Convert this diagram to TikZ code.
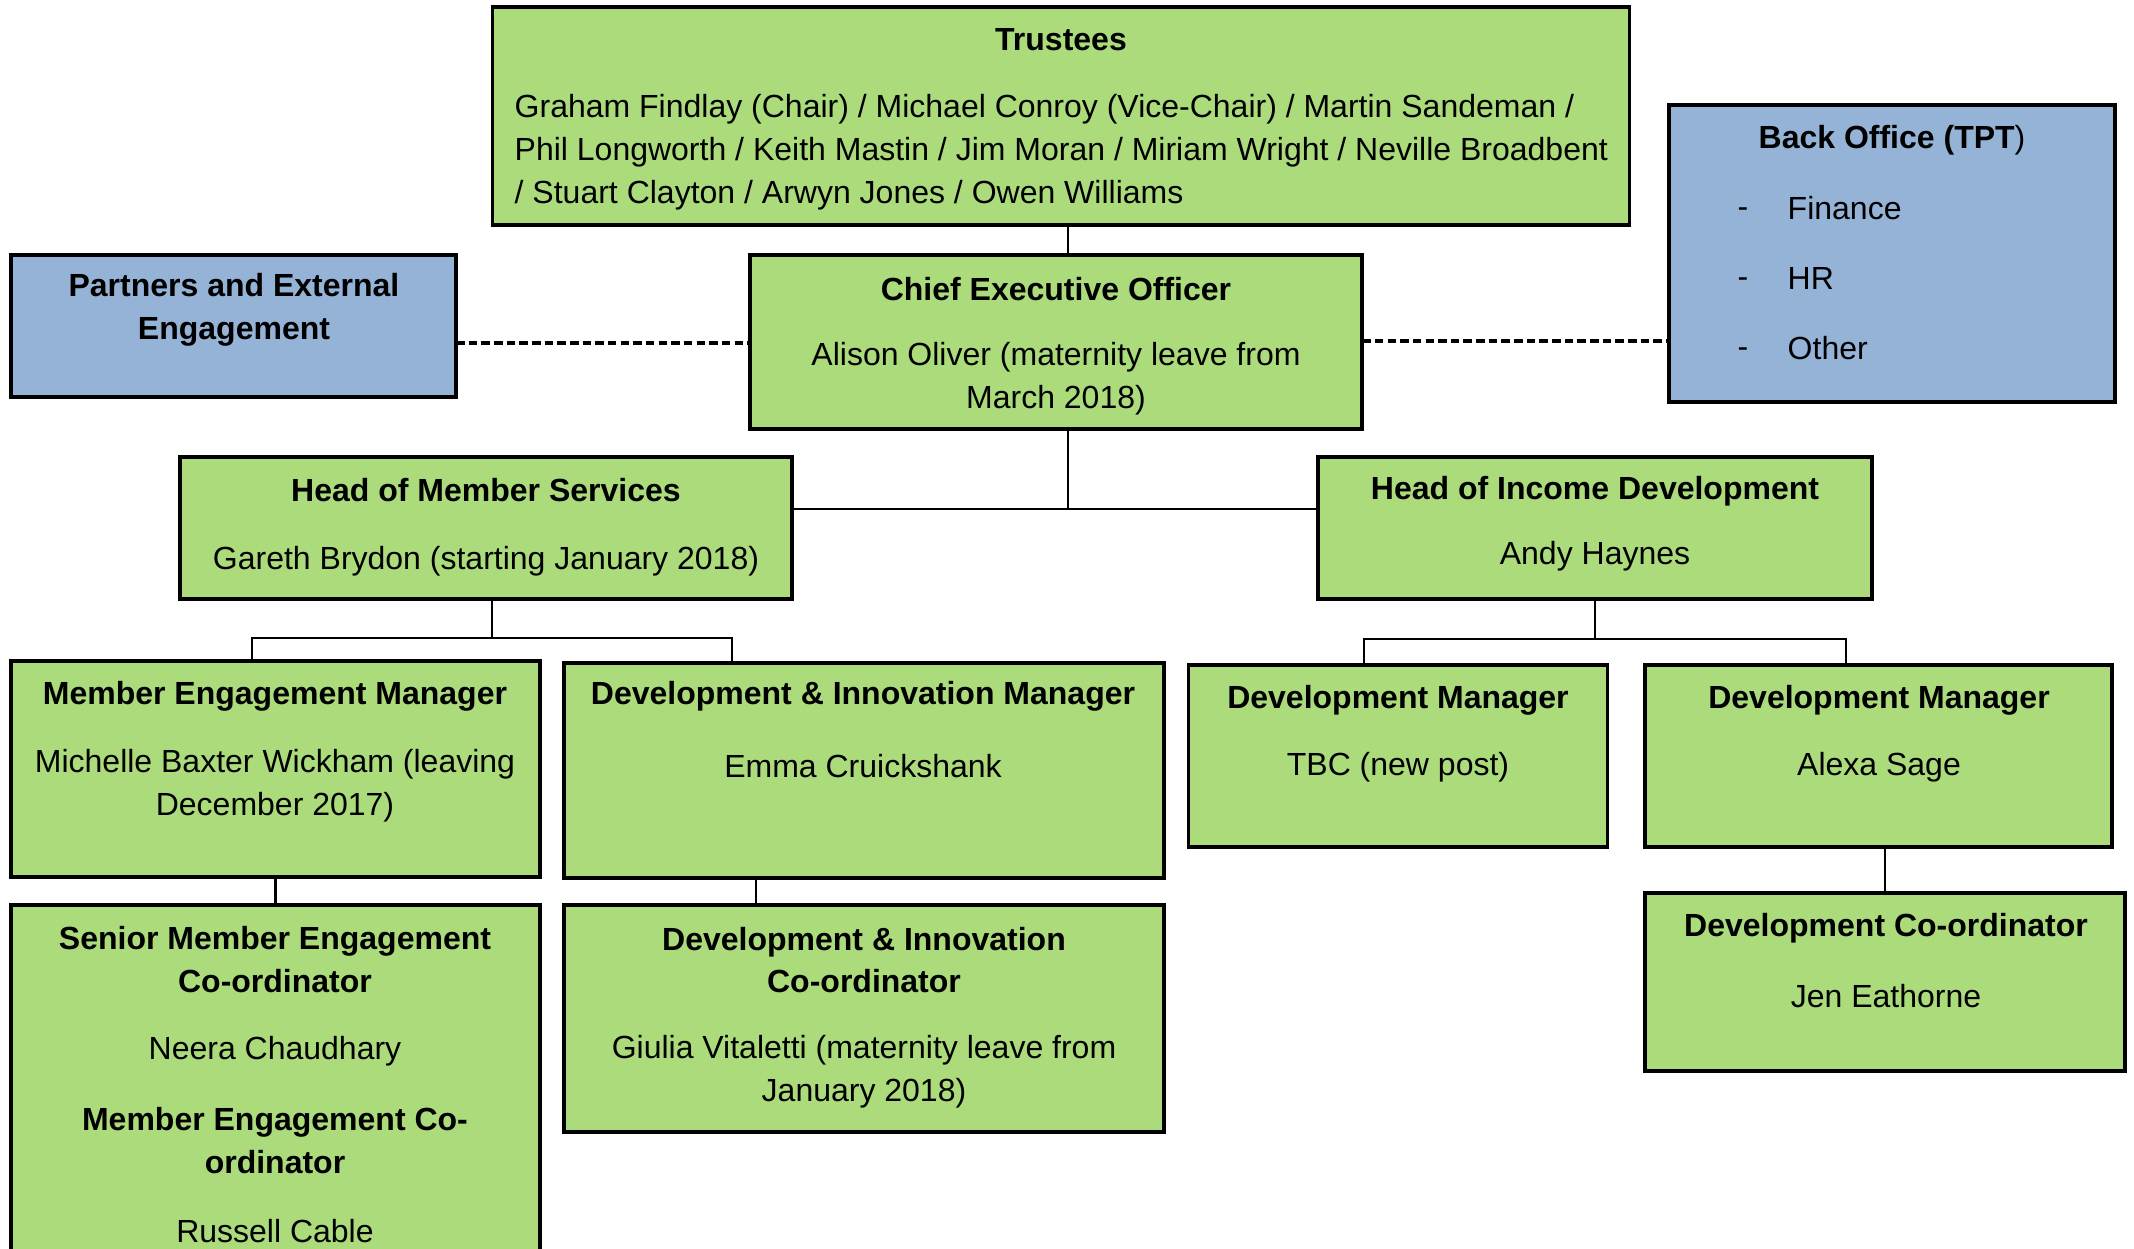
\documentclass[tikz,border=0pt]{standalone}
\usepackage{fontspec}
\setmainfont{Liberation Sans}
\definecolor{boxgreen}{RGB}{171,219,123}
\definecolor{boxblue}{RGB}{149,179,215}
\tikzset{
  box/.style={draw=black, line width=1pt, fill=boxgreen, inner sep=0pt, outer sep=0pt},
  bluebox/.style={box, fill=boxblue},
  txt/.style={inner sep=0pt, align=center, yshift=-0.03cm, font=\fontsize{9.1}{12.2}\selectfont},
  ttl/.style={txt, font=\fontsize{9.1}{12.2}\selectfont\bfseries},
  link/.style={draw=black, line width=0.8pt},
  dotlink/.style={draw=black, line width=0.95pt, dash pattern=on 2.4pt off 1.2pt},
}
\begin{document}
\begin{tikzpicture}[x=0.01cm, y=-0.01cm]
\clip (0,0) rectangle (2134,1248);
\fill[white] (0,0) rectangle (2134,1248);

% boxes
\node[box, minimum width=11.36cm, minimum height=2.18cm] (trustees) at (1061,116) {};
\node[bluebox, minimum width=4.45cm, minimum height=1.42cm] (partners) at (233.5,326) {};
\node[box, minimum width=6.12cm, minimum height=1.74cm] (ceo) at (1056,342) {};
\node[bluebox, minimum width=4.46cm, minimum height=2.97cm] (back) at (1892,253.5) {};
\node[box, minimum width=6.12cm, minimum height=1.42cm] (hms) at (486,528) {};
\node[box, minimum width=5.54cm, minimum height=1.42cm] (hid) at (1595,528) {};
\node[box, minimum width=5.29cm, minimum height=2.16cm] (mem) at (275.5,769) {};
\node[box, minimum width=6.00cm, minimum height=2.15cm] (dim) at (864,770.5) {};
\node[box, minimum width=5.29cm, minimum height=3.65cm] (senior) at (275.5,1087.5) {};
\node[box, minimum width=6.00cm, minimum height=2.27cm] (dic) at (864,1018.5) {};
\node[box, minimum width=4.19cm, minimum height=1.82cm] (dma) at (1398,756) {};
\node[box, minimum width=4.67cm, minimum height=1.82cm] (dmb) at (1878.5,756) {};
\node[box, minimum width=4.80cm, minimum height=1.78cm] (dco) at (1885,982) {};

% connectors
\coordinate (jtop) at (1068,509);
\draw[link] (trustees.south -| jtop) -- (ceo.north -| jtop);
\draw[link] (ceo.south -| jtop) -- (jtop);
\draw[link] (hms.east |- jtop) -- (hid.west |- jtop);

\coordinate (jl) at (492,638);
\coordinate (jla) at (252,638);
\coordinate (jlb) at (732,638);
\draw[link] (hms.south -| jl) -- (jl);
\draw[link] (mem.north -| jla) -- (jla) -- (jlb) -- (dim.north -| jlb);

\coordinate (jr) at (1595,639);
\coordinate (jra) at (1364,639);
\coordinate (jrb) at (1846,639);
\draw[link] (hid.south -| jr) -- (jr);
\draw[link] (dma.north -| jra) -- (jra) -- (jrb) -- (dmb.north -| jrb);

\coordinate (jd) at (756,0);
\draw[link] (mem.south) -- (senior.north);
\draw[link] (dim.south -| jd) -- (dic.north -| jd);
\draw[link] (dmb.south -| dco.north) -- (dco.north);

\coordinate (yd1) at (0,343);
\coordinate (yd2) at (0,341);
\draw[dotlink] (partners.east |- yd1) -- (ceo.west |- yd1);
\draw[dotlink] (ceo.east |- yd2) -- (back.west |- yd2);

% texts
\node[ttl] (t-trustees) at (1061,37) {Trustees};
\node[txt, align=left, anchor=west] (t-trusteesnames) at (514,149) {Graham Findlay (Chair) / Michael Conroy (Vice-Chair) / Martin Sandeman /\\Phil Longworth / Keith Mastin / Jim Moran / Miriam Wright / Neville Broadbent\\/ Stuart Clayton / Arwyn Jones / Owen Williams};

\node[ttl] (t-partners) at (234,306.5) {Partners and External\\Engagement};

\node[ttl] (t-ceo) at (1056,286) {Chief Executive Officer};
\node[txt] (t-ceoname) at (1056,375.5) {Alison Oliver (maternity leave from\\March 2018)};

\node[ttl] (t-back) at (1892,137) {Back Office (TPT\textmd{)}};
\node[txt] (d-fin) at (1743,207) {\vphantom{Fy}-};
\node[txt, anchor=west] (t-fin) at (1787,205) {Finance};
\node[txt] (d-hr) at (1743,277) {\vphantom{Fy}-};
\node[txt, anchor=west] (t-hr) at (1787,275) {HR};
\node[txt] (d-oth) at (1743,347) {\vphantom{Fy}-};
\node[txt, anchor=west] (t-oth) at (1787,345) {Other};

\node[ttl] (t-hms) at (486,487) {Head of Member Services};
\node[txt] (t-hmsname) at (486,558) {Gareth Brydon (starting January 2018)};

\node[ttl] (t-hid) at (1595,488) {Head of Income Development};
\node[txt] (t-hidname) at (1595,553) {Andy Haynes};

\node[ttl] (t-mem) at (275,693) {Member Engagement Manager};
\node[txt] (t-memname) at (275,782.5) {Michelle Baxter Wickham (leaving\\December 2017)};

\node[ttl] (t-dim) at (863,693) {Development \& Innovation Manager};
\node[txt] (t-dimname) at (863,763) {Emma Cruickshank};

\node[ttl] (t-senior) at (275,956.5) {Senior Member Engagement\\Co-ordinator};
\node[txt] (t-seniorname) at (275,1048) {Neera Chaudhary};
\node[ttl] (t-mec) at (275,1137.5) {Member Engagement Co-\\ordinator};
\node[txt] (t-mecname) at (275,1228) {Russell Cable};

\node[ttl] (t-dic) at (864,957) {Development \& Innovation\\Co-ordinator};
\node[txt] (t-dicname) at (864,1069) {Giulia Vitaletti (maternity leave from\\January 2018)};

\node[ttl] (t-dma) at (1398,697) {Development Manager};
\node[txt] (t-dmaname) at (1398,764) {TBC (new post)};

\node[ttl] (t-dmb) at (1879,697) {Development Manager};
\node[txt] (t-dmbname) at (1879,764) {Alexa Sage};

\node[ttl] (t-dco) at (1886,925) {Development Co-ordinator};
\node[txt] (t-dconame) at (1886,993) {Jen Eathorne};
\end{tikzpicture}
\end{document}
